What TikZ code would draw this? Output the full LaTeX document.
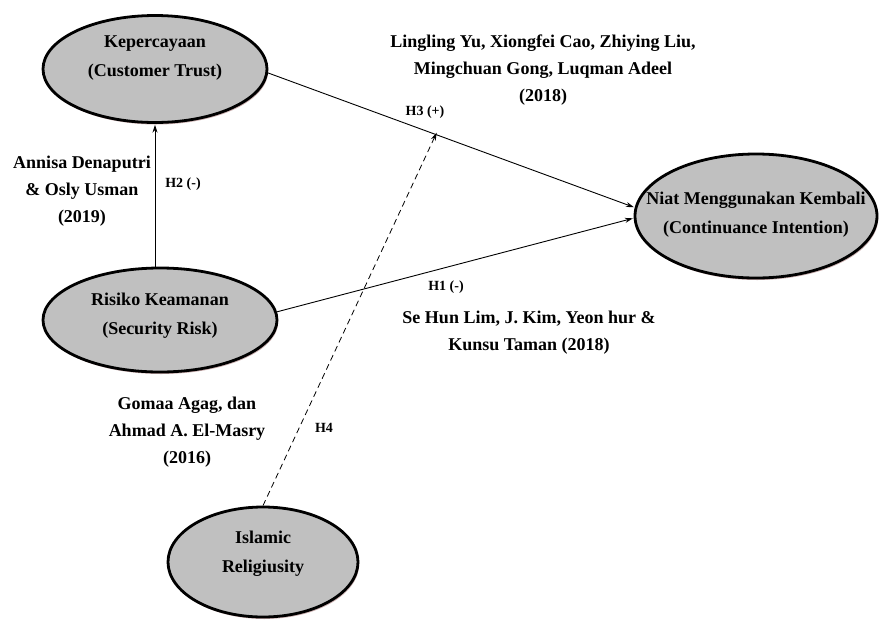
\documentclass[tikz,border=0pt]{standalone}
\usepackage{fontspec}
\setmainfont{Liberation Serif}
\usetikzlibrary{shapes.geometric,arrows.meta,shadows}
\begin{document}
\begin{tikzpicture}[x=1pt,y=-1pt,
 var/.style={ellipse,draw=black,line width=2.8pt,fill={rgb,255:red,192;green,192;blue,192},inner sep=0pt,
   drop shadow={shadow xshift=1.2pt,shadow yshift=-2pt,fill={rgb,255:red,140;green,80;blue,80},opacity=0.45}},
 vtext/.style={font=\fontsize{18}{29}\selectfont\bfseries,align=center},
 ref/.style={font=\fontsize{18}{27}\selectfont\bfseries,align=center},
 hyp/.style={font=\fontsize{14}{16}\selectfont\bfseries},
 arr/.style={-{Stealth[length=8pt,width=5pt]},line width=0.9pt,shorten >=0.8pt}
]
\useasboundingbox (0,0) rectangle (881,619);

\node[var,minimum width=224pt,minimum height=107pt] (trust) at (155,69) {};
\node[var,minimum width=234pt,minimum height=104pt] (risk) at (160,320) {};
\node[var,minimum width=242pt,minimum height=124pt] (intent) at (756,216) {};
\node[var,minimum width=190pt,minimum height=110pt] (islam) at (263,562) {};

\node[vtext] (trustT) at (155,58) {Kepercayaan\\(Customer Trust)};
\node[vtext] (riskT) at (160,316) {Risiko Keamanan\\(Security Risk)};
\node[vtext] (intentT) at (756,215) {Niat Menggunakan Kembali\\(Continuance Intention)};
\node[vtext] (islamT) at (263,554) {Islamic\\Religiusity};

\node[ref] (r3) at (543,70) {Lingling Yu, Xiongfei Cao, Zhiying Liu,\\Mingchuan Gong, Luqman Adeel\\(2018)};
\node[ref] (r2) at (82,191) {Annisa Denaputri\\\& Osly Usman\\(2019)};
\node[ref] (r1) at (529,333) {Se Hun Lim, J. Kim, Yeon hur \&\\Kunsu Taman (2018)};
\node[ref] (r4) at (187,432) {Gomaa Agag, dan\\Ahmad A. El-Masry\\(2016)};

\node[hyp] (h3) at (425,112) {H3 (+)};
\node[hyp] (h2) at (183,184) {H2 (-)};
\node[hyp] (h1) at (446,287) {H1 (-)};
\node[hyp] (h4) at (324,428) {H4};

\draw[arr] (trust.south |- risk.north) -- (trust.south);
\draw[arr] (trust.-2) -- (intent.176);
\draw[arr] (risk.4) -- (intent.181);
\coordinate (h4end) at (437,132);
\draw[arr,line width=0.8pt,dash pattern=on 6pt off 4pt] (islam.north) -- (h4end);
\end{tikzpicture}
\end{document}
